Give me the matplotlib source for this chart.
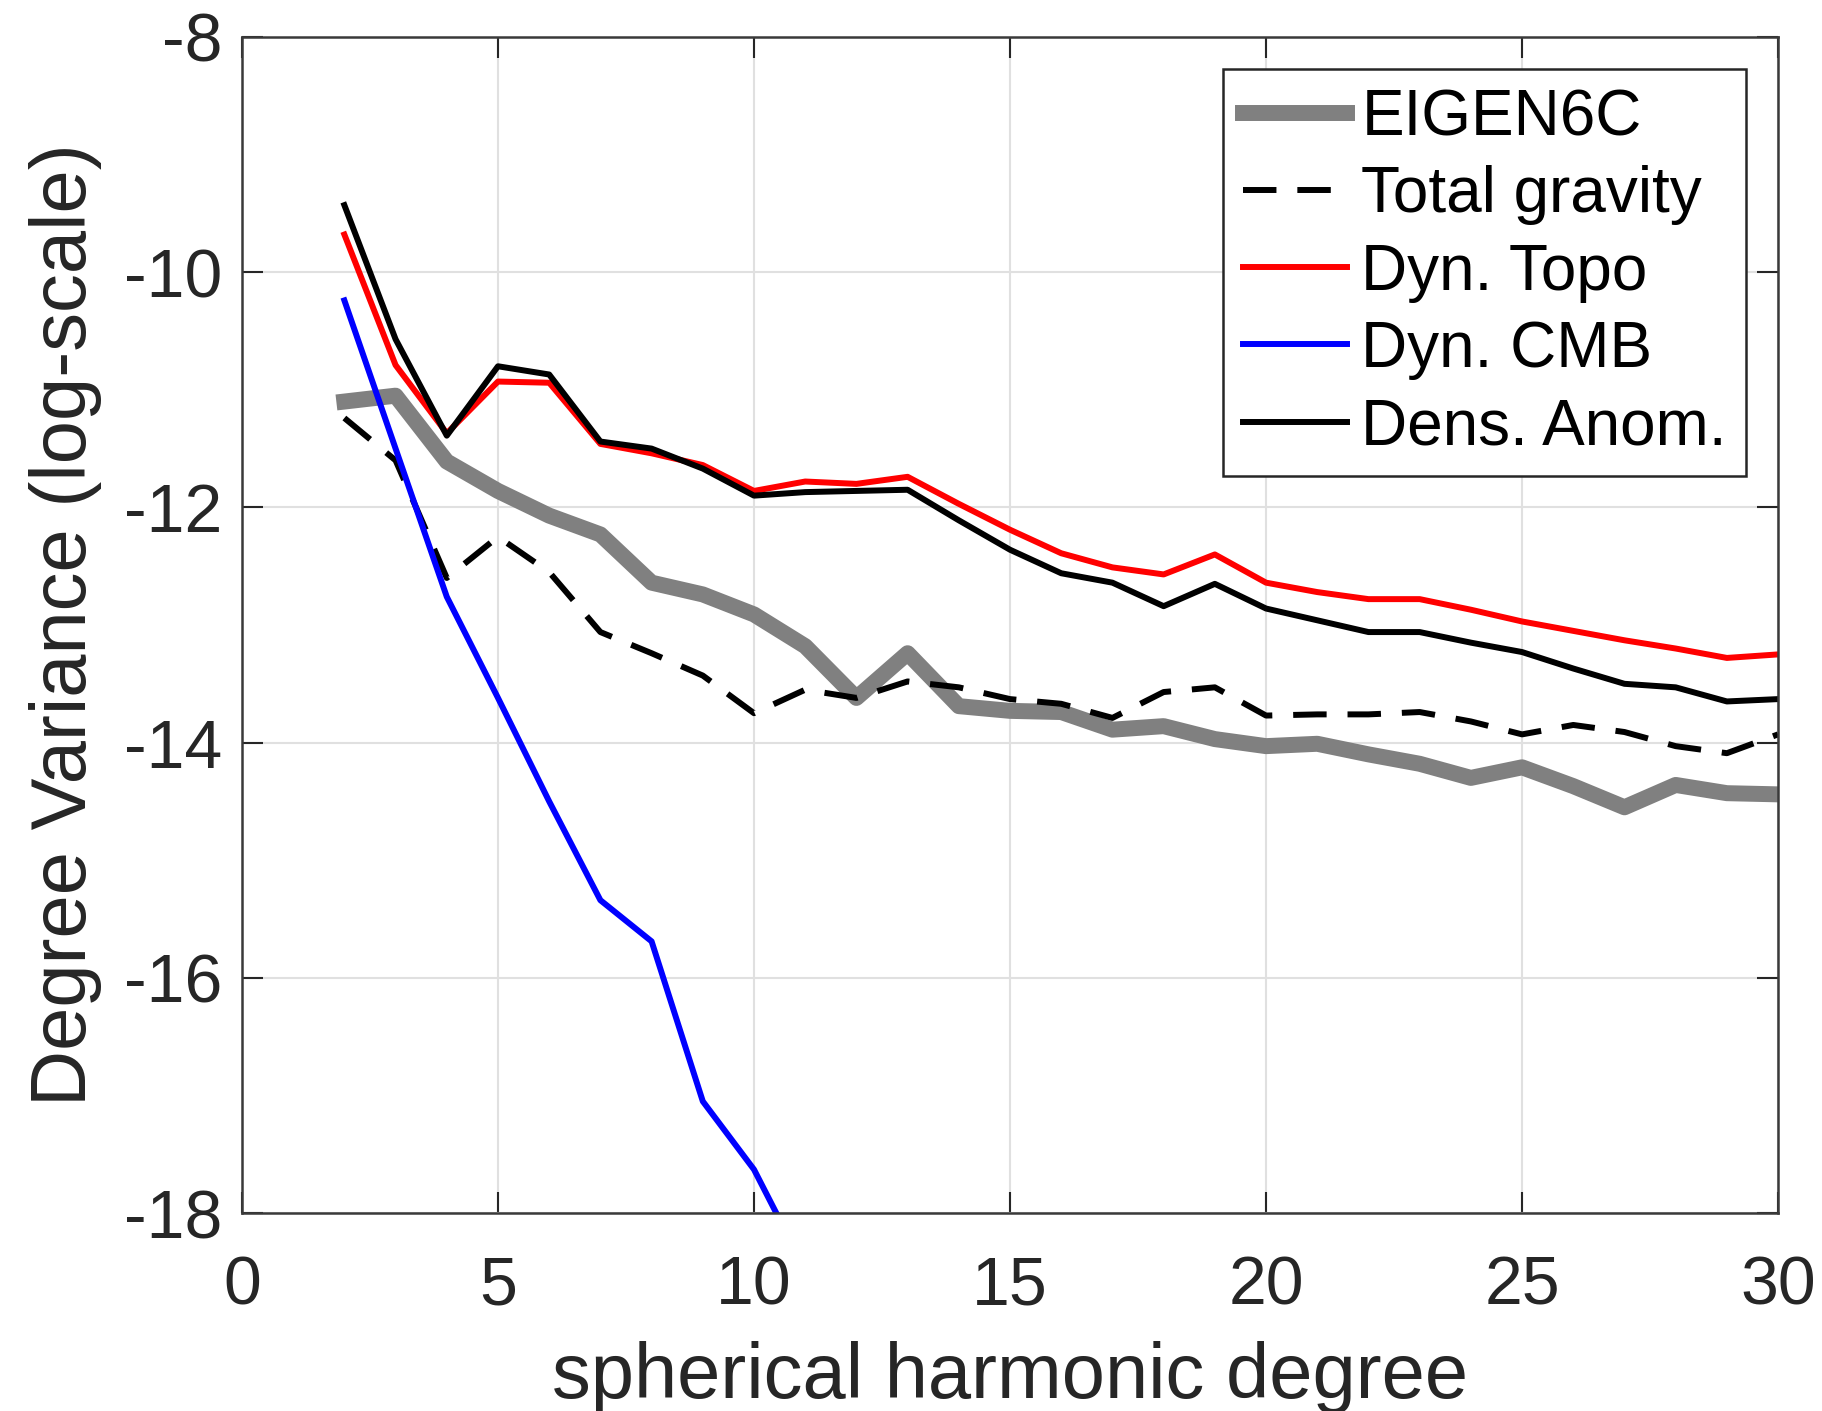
import numpy as np
import matplotlib
matplotlib.use("Agg")
import matplotlib.pyplot as plt

plt.rcParams['font.family'] = ['Liberation Sans', 'DejaVu Sans']
plt.rcParams['axes.unicode_minus'] = False

# spherical harmonic degree
deg = np.arange(2, 31)

# log10 degree variance
eigen6c = [-11.10, -11.05, -11.61, -11.86, -12.07, -12.23, -12.64, -12.74, -12.91,
           -13.18, -13.62, -13.24, -13.69, -13.73, -13.74, -13.89, -13.86, -13.97,
           -14.03, -14.01, -14.10, -14.18, -14.30, -14.21, -14.37, -14.55, -14.36,
           -14.43, -14.44]
total_grav = [-11.24, -11.60, -12.60, -12.25, -12.55, -13.06, -13.24, -13.43, -13.75,
              -13.55, -13.62, -13.48, -13.53, -13.63, -13.67, -13.79, -13.57, -13.53,
              -13.77, -13.76, -13.76, -13.74, -13.82, -13.93, -13.85, -13.91, -14.03,
              -14.09, -13.93]
dyn_topo = [-9.68, -10.79, -11.37, -10.93, -10.94, -11.46, -11.54, -11.64, -11.86,
            -11.78, -11.80, -11.74, -11.97, -12.19, -12.39, -12.51, -12.57, -12.40,
            -12.64, -12.72, -12.78, -12.78, -12.87, -12.97, -13.05, -13.13, -13.20,
            -13.28, -13.25]
dens_anom = [-9.43, -10.57, -11.39, -10.80, -10.87, -11.44, -11.50, -11.67, -11.90,
             -11.87, -11.86, -11.85, -12.11, -12.36, -12.56, -12.64, -12.84, -12.65,
             -12.86, -12.96, -13.06, -13.06, -13.15, -13.23, -13.37, -13.50, -13.53,
             -13.65, -13.63]
# CMB curve leaves the plot after degree 10
deg_cmb = np.arange(2, 12)
dyn_cmb = [-10.24, -11.50, -12.76, -13.62, -14.50, -15.34, -15.69, -17.05, -17.63, -18.48]

fig = plt.figure(figsize=(18.22, 14.11), dpi=100)
ax = fig.add_axes([0.1328, 0.1403, 0.8431, 0.8335])

ax.plot(deg, eigen6c, color='#808080', lw=11.5, label='EIGEN6C')
ax.plot(deg, total_grav, color='black', lw=4.3, dashes=(5.6, 3.5), label='Total gravity')
ax.plot(deg, dyn_topo, color='red', lw=4.3, label='Dyn. Topo')
ax.plot(deg_cmb, dyn_cmb, color='blue', lw=4.3, label='Dyn. CMB')
ax.plot(deg, dens_anom, color='black', lw=4.3, label='Dens. Anom.')

ax.set_xlim(0, 30)
ax.set_ylim(-18, -8)
ax.set_xticks(np.arange(0, 31, 5))
ax.set_yticks(np.arange(-18, -7, 2))
ax.grid(True, color='#e0e0e0', lw=1.5)
ax.set_axisbelow(True)

for s in ax.spines.values():
    s.set_color('#3a3a3a')
    s.set_linewidth(1.8)
ax.tick_params(direction='in', length=15, width=1.5, top=True, right=True,
               labelsize=49, colors='#262626', pad=14)
ax.tick_params(axis='x', pad=30)

ax.set_xlabel('spherical harmonic degree', fontsize=56, color='#262626', labelpad=16)
ax.set_ylabel('Degree Variance (log-scale)', fontsize=56, color='#262626', labelpad=16)

leg = ax.legend(loc='upper right', fontsize=46, handlelength=1.64, handletextpad=0.22,
                labelspacing=0.27, borderpad=0.3, borderaxespad=0.5, fancybox=False,
                framealpha=1, edgecolor='#262626')
leg.get_frame().set_linewidth(1.8)

fig.savefig('out.png', dpi=100)
